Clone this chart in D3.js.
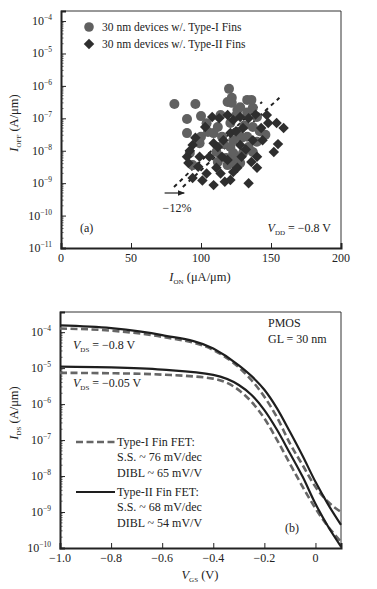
<!DOCTYPE html>
<html>
<head>
<meta charset="utf-8">
<script src="https://cdn.jsdelivr.net/npm/d3@7"></script>
<style>
  body { margin: 0; background: #fff; }
  svg { display: block; }
  text { font-family: "Liberation Serif", "Times New Roman", serif; fill: #222; }
</style>
</head>
<body>
<svg id="chart" width="377" height="589"></svg>
<script>
// ---- panel (a) data: [I_on (uA/um), I_off (A/um)] ----
const typeOne = [
  [81, 2.75e-7], [96, 2.75e-7], [120, 8.1e-7], [90, 9.5e-8], [90, 3.5e-8], [100, 1.17e-7],
  [122, 4.3e-7], [133, 3.7e-7], [137, 2.1e-7], [128, 2.2e-7], [122, 3.0e-7], [109, 3.5e-8],
  [100, 2.7e-8], [112, 5.4e-8], [121, 7.2e-8], [126, 3.8e-8], [137, 5.4e-8], [146, 3.1e-8],
  [140, 1.9e-8], [137, 9.1e-9], [134, 1.3e-8], [128, 4.2e-9], [123, 4.2e-9], [119, 3.6e-9],
  [112, 4.5e-9], [111, 9.1e-9], [121, 1.3e-8], [123, 2.1e-8], [129, 2.5e-8], [133, 2.7e-8],
  [92, 8.5e-9], [94, 3.6e-9], [99, 1.7e-8], [105, 3.8e-8], [114, 1.26e-7], [126, 1.8e-7],
  [133, 1.5e-7], [140, 1.1e-7], [119, 3.2e-7], [136, 3.7e-7], [123, 8.5e-9], [115, 2.7e-8],
  [130, 8.5e-9], [118, 6e-9], [126, 6e-9], [116, 1.6e-8], [104, 7e-8], [131, 6e-8],
  [142, 4e-8], [125, 1.2e-7], [127, 5.5e-9], [120, 5e-9]
];
const typeTwo = [
  [159, 5.0e-8], [154, 7.2e-8], [155, 1.6e-8], [152, 9.1e-9], [140, 3.0e-9], [134, 1.0e-9],
  [121, 1.26e-9], [109, 8.7e-10], [94, 1.45e-9], [91, 4.2e-9], [90, 6.5e-9], [94, 1.5e-8],
  [108, 1.1e-7], [119, 1.26e-7], [147, 1.26e-7], [148, 7.2e-8], [128, 1.1e-7], [115, 6.5e-9],
  [111, 3.0e-9], [114, 2.0e-9], [140, 6.5e-9], [144, 2.1e-8], [137, 2.1e-8], [128, 1.5e-8],
  [121, 3.5e-8], [130, 5.0e-8], [99, 6.5e-9], [109, 1.7e-8], [104, 2.0e-9], [123, 2.2e-9],
  [136, 4.5e-9], [123, 8.9e-8], [116, 2.1e-8], [119, 5.2e-9], [103, 5.4e-8], [129, 6.5e-9],
  [134, 1.0e-7], [98, 3.2e-9], [106, 6.5e-9], [113, 1.0e-7], [139, 1.3e-7], [143, 5e-8],
  [92, 1.0e-8], [96, 2.5e-8], [101, 1.2e-9], [117, 1.1e-9], [126, 3e-9], [132, 1.1e-8],
  [112, 1.3e-8], [125, 4e-8]
];
const trendA = [[80.7, 7.6e-10], [143.6, 3.2e-7]];
const trendB = [[87, 7.6e-10], [156, 4.3e-7]];
const ionTicks = [0, 50, 100, 150, 200];
const ioffTicks = [-11, -10, -9, -8, -7, -6, -5, -4];

// ---- panel (b) data: V_GS (V) and I_DS (A/um) ----
const vgs = [-1.0, -0.8, -0.6, -0.4, -0.3, -0.25, -0.2, -0.15, -0.1, -0.05, 0, 0.05, 0.1];
const solidHigh = [1.55e-4, 1.3e-4, 8.3e-5, 3.5e-5, 1.2e-5, 6.0e-6, 2.5e-6, 7.5e-7, 1.7e-7, 3.6e-8, 6.9e-9, 1.6e-9, 4.4e-10];
const dashHigh  = [1.26e-4, 1.1e-4, 7.4e-5, 3.2e-5, 1.05e-5, 4.6e-6, 1.6e-6, 4.2e-7, 8.1e-8, 2.0e-8, 5.0e-9, 1.9e-9, 1.0e-9];
const solidLow  = [1.1e-5, 1.05e-5, 9.1e-6, 6.5e-6, 3.4e-6, 1.8e-6, 6.8e-7, 1.9e-7, 4.3e-8, 9.5e-9, 1.7e-9, 3.9e-10, 1.1e-10];
const dashLow   = [7.4e-6, 7.2e-6, 6.6e-6, 5.1e-6, 2.45e-6, 1.15e-6, 4.0e-7, 1.0e-7, 2.2e-8, 5.0e-9, 1.26e-9, 3.9e-10, 1.5e-10];
const vgsTicks = [-1.0, -0.8, -0.6, -0.4, -0.2, 0];
const idsTicks = [-10, -9, -8, -7, -6, -5, -4];

const svg = d3.select('#chart');
svg.append('rect').attr('width', 377).attr('height', 589).attr('fill', '#fff');

const minor = [2, 3, 4, 5, 6, 7, 8, 9];

function frame(g, x0, x1, y0, y1) {
  g.append('line').attr('x1', x0).attr('x2', x1).attr('y1', y0).attr('y2', y0)
    .attr('stroke', '#333').attr('stroke-width', 1);
  g.append('line').attr('x1', x1).attr('x2', x1).attr('y1', y0).attr('y2', y1)
    .attr('stroke', '#333').attr('stroke-width', 1);
}

function logLabels(g, y, xPos, exps) {
  exps.forEach(e => {
    const t = g.append('text').attr('x', xPos).attr('y', y(Math.pow(10, e)) + 4)
      .attr('text-anchor', 'end').attr('font-size', 12);
    t.append('tspan').text('10');
    t.append('tspan').attr('dy', -5).attr('font-size', 7.5).text('\u2212' + Math.abs(e));
  });
}

function minorTicks(g, y, x0, exps) {
  exps.slice(0, -1).forEach(e => {
    minor.forEach(m => {
      const v = m * Math.pow(10, e);
      g.append('line').attr('x1', x0).attr('x2', x0 + 2.5)
        .attr('y1', y(v)).attr('y2', y(v)).attr('stroke', '#333').attr('stroke-width', 0.8);
    });
  });
}

// ================= panel (a) =================
const a = svg.append('g');
const xa = d3.scaleLinear().domain([0, 200]).range([61, 341]);
const ya = d3.scaleLog().domain([1e-11, Math.pow(10, -3.69)]).range([248, 11]);

frame(a, 61, 341, 11, 248);

a.append('g').attr('transform', 'translate(0,248)')
  .call(d3.axisBottom(xa).tickValues(ionTicks).tickSize(-5).tickPadding(5).tickFormat(''))
  .call(g => g.select('.domain').attr('stroke-width', 2).attr('stroke', '#222'))
  .call(g => g.selectAll('.tick line').attr('stroke', '#222'));
ionTicks.forEach(v => {
  a.append('text').attr('x', xa(v)).attr('y', 262).attr('text-anchor', 'middle')
    .attr('font-size', 12).text(v);
});

a.append('g').attr('transform', 'translate(61,0)')
  .call(d3.axisLeft(ya).tickValues(ioffTicks.map(e => Math.pow(10, e))).tickSize(-5).tickFormat(''))
  .call(g => g.select('.domain').attr('stroke-width', 2).attr('stroke', '#222'))
  .call(g => g.selectAll('.tick line').attr('stroke', '#222'));
minorTicks(a, ya, 61, ioffTicks);
logLabels(a, ya, 52, ioffTicks);

// trend lines
[trendA, trendB].forEach(t => {
  a.append('path').datum(t)
    .attr('d', d3.line().x(d => xa(d[0])).y(d => ya(d[1])))
    .attr('fill', 'none').attr('stroke', '#222').attr('stroke-width', 2)
    .attr('stroke-dasharray', '4,4');
});

// markers
a.append('g').selectAll('circle').data(typeOne).enter().append('circle')
  .attr('cx', d => xa(d[0])).attr('cy', d => ya(d[1])).attr('r', 5)
  .attr('fill', '#606060');
a.append('g').selectAll('path').data(typeTwo).enter().append('path')
  .attr('d', d3.symbol().type(d3.symbolDiamond2).size(70))
  .attr('transform', d => `translate(${xa(d[0])},${ya(d[1])})`)
  .attr('fill', '#2e2e2e');

// arrow for -12%
a.append('defs').append('marker').attr('id', 'arr').attr('viewBox', '0 0 10 10')
  .attr('refX', 9).attr('refY', 5).attr('markerWidth', 6).attr('markerHeight', 6)
  .attr('orient', 'auto')
  .append('path').attr('d', 'M0,1L10,5L0,9Z').attr('fill', '#222');
a.append('line').attr('x1', xa(74)).attr('x2', xa(88)).attr('y1', 193).attr('y2', 193)
  .attr('stroke', '#222').attr('stroke-width', 1.2).attr('marker-end', 'url(#arr)');
a.append('text').attr('x', 177).attr('y', 212).attr('text-anchor', 'middle')
  .attr('font-size', 12).text('\u221212%');

// legend
a.append('circle').attr('cx', 89).attr('cy', 27).attr('r', 4.8).attr('fill', '#606060');
a.append('text').attr('x', 102).attr('y', 31).attr('font-size', 11.5).text('30 nm devices w/. Type-I Fins');
a.append('path').attr('d', d3.symbol().type(d3.symbolDiamond2).size(70))
  .attr('transform', 'translate(89,44)').attr('fill', '#2e2e2e');
a.append('text').attr('x', 102).attr('y', 48).attr('font-size', 11.5).text('30 nm devices w/. Type-II Fins');

a.append('text').attr('x', 80).attr('y', 232).attr('font-size', 12).text('(a)');
const vdd = a.append('text').attr('x', 331).attr('y', 232).attr('text-anchor', 'end').attr('font-size', 12);
vdd.append('tspan').attr('font-style', 'italic').text('V');
vdd.append('tspan').attr('font-size', 7).attr('dy', 3).text('DD');
vdd.append('tspan').attr('dy', -3).text(' = \u22120.8 V');

const xla = a.append('text').attr('x', 200).attr('y', 281).attr('text-anchor', 'middle').attr('font-size', 12.5);
xla.append('tspan').attr('font-style', 'italic').text('I');
xla.append('tspan').attr('font-size', 7).attr('dy', 3).text('ON');
xla.append('tspan').attr('dy', -3).text(' (\u03bcA/\u03bcm)');

const yla = a.append('text').attr('transform', 'translate(18,123) rotate(-90)')
  .attr('text-anchor', 'middle').attr('font-size', 12.5);
yla.append('tspan').attr('font-style', 'italic').text('I');
yla.append('tspan').attr('font-size', 7).attr('dy', 3).text('OFF');
yla.append('tspan').attr('dy', -3).text(' (A/\u03bcm)');

// ================= panel (b) =================
const b = svg.append('g');
const xb = d3.scaleLinear().domain([-1.0, 0.1]).range([60, 341]);
const yb = d3.scaleLog().domain([1e-10, Math.pow(10, -3.44)]).range([548, 312]);

frame(b, 60, 341, 312, 548);

b.append('g').attr('transform', 'translate(0,548)')
  .call(d3.axisBottom(xb).tickValues(vgsTicks).tickSize(-5).tickFormat(''))
  .call(g => g.select('.domain').attr('stroke-width', 2).attr('stroke', '#222'))
  .call(g => g.selectAll('.tick line').attr('stroke', '#222'));
vgsTicks.forEach(v => {
  b.append('text').attr('x', xb(v)).attr('y', 562).attr('text-anchor', 'middle')
    .attr('font-size', 12).text(v === 0 ? '0' : '\u2212' + Math.abs(v).toFixed(1));
});

b.append('g').attr('transform', 'translate(60,0)')
  .call(d3.axisLeft(yb).tickValues(idsTicks.map(e => Math.pow(10, e))).tickSize(-5).tickFormat(''))
  .call(g => g.select('.domain').attr('stroke-width', 2).attr('stroke', '#222'))
  .call(g => g.selectAll('.tick line').attr('stroke', '#222'));
minorTicks(b, yb, 60, idsTicks);
logLabels(b, yb, 51, idsTicks);

const curve = d3.line().x((d, i) => xb(vgs[i])).y(d => yb(d)).curve(d3.curveMonotoneX);
[dashLow, dashHigh].forEach(s => {
  b.append('path').datum(s).attr('d', curve).attr('fill', 'none')
    .attr('stroke', '#666').attr('stroke-width', 2.6).attr('stroke-dasharray', '7,3.5');
});
[solidLow, solidHigh].forEach(s => {
  b.append('path').datum(s).attr('d', curve).attr('fill', 'none')
    .attr('stroke', '#1e1e1e').attr('stroke-width', 2.2);
});

// legend
b.append('line').attr('x1', 76).attr('x2', 115).attr('y1', 442).attr('y2', 442)
  .attr('stroke', '#666').attr('stroke-width', 2.6).attr('stroke-dasharray', '7,3.5');
b.append('line').attr('x1', 76).attr('x2', 115).attr('y1', 492).attr('y2', 492)
  .attr('stroke', '#1e1e1e').attr('stroke-width', 2.2);
const legLines = [
  ['Type-I Fin FET:', 446], ['S.S. ~ 76 mV/dec', 461], ['DIBL ~ 65 mV/V', 477],
  ['Type-II Fin FET:', 496], ['S.S. ~ 68 mV/dec', 511], ['DIBL ~ 54 mV/V', 527]
];
legLines.forEach(l => {
  b.append('text').attr('x', 117).attr('y', l[1]).attr('font-size', 12).text(l[0]);
});

b.append('text').attr('x', 268).attr('y', 327).attr('font-size', 12).text('PMOS');
b.append('text').attr('x', 268).attr('y', 343).attr('font-size', 12).text('GL = 30 nm');
b.append('text').attr('x', 285).attr('y', 532).attr('font-size', 12).text('(b)');

function vdsLabel(y, val) {
  const t = b.append('text').attr('x', 73).attr('y', y).attr('font-size', 12);
  t.append('tspan').attr('font-style', 'italic').text('V');
  t.append('tspan').attr('font-size', 7).attr('dy', 3).text('DS');
  t.append('tspan').attr('dy', -3).text(' = \u2212' + val + ' V');
}
vdsLabel(349, '0.8');
vdsLabel(387, '0.05');

const xlb = b.append('text').attr('x', 200).attr('y', 579).attr('text-anchor', 'middle').attr('font-size', 12.5);
xlb.append('tspan').attr('font-style', 'italic').text('V');
xlb.append('tspan').attr('font-size', 7).attr('dy', 3).text('GS');
xlb.append('tspan').attr('dy', -3).text(' (V)');

const ylb = b.append('text').attr('transform', 'translate(18,413) rotate(-90)')
  .attr('text-anchor', 'middle').attr('font-size', 12.5);
ylb.append('tspan').attr('font-style', 'italic').text('I');
ylb.append('tspan').attr('font-size', 7).attr('dy', 3).text('DS');
ylb.append('tspan').attr('dy', -3).text(' (A/\u03bcm)');
</script>
</body>
</html>
